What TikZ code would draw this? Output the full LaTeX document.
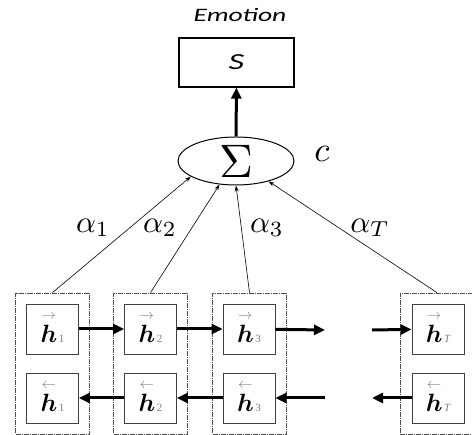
\documentclass[tikz,border=0pt]{standalone}
\usepackage{fontspec}
\usepackage{bm}
\newfontfamily\calib{Carlito}
\newfontfamily\tnr{Liberation Serif}
\usetikzlibrary{arrows.meta,positioning,shapes.geometric}

% h with a small arrow over it and a grey index
\newcommand{\hdir}[2]{\begin{tabular}[b]{@{}c@{}}{\color{gray}\fontsize{15}{15}\selectfont$#1$}\\[2pt]\scalebox{2.5}{$\bm{h}$}\end{tabular}\,{\color{gray}\tnr\fontsize{11}{11}\selectfont #2}}
% math label blown up
\newcommand{\lbl}[2][3.1]{\scalebox{#1}{$#2$}}

\begin{document}
\begin{tikzpicture}[
  x=1pt, y=1pt,
  outbox/.style={rectangle, draw=black!70, line width=0.7pt,
                 dash pattern=on 5pt off 1pt on 1pt off 1pt,
                 minimum width=74pt, minimum height=141pt, inner sep=0pt},
  hbox/.style={rectangle, draw=black!75, line width=0.8pt,
               minimum width=52pt, minimum height=50pt, inner sep=0pt},
  fat/.style={line width=3pt, -{Triangle[length=11pt,width=10pt]}},
  att/.style={line width=0.6pt, -{Stealth[length=6pt,width=4pt]}},
]
  \useasboundingbox (0,0) rectangle (472,435);
  \clip (0,0) rectangle (472,435);
  % output
  \node (emo) at (240,420) {\calib\itshape\fontsize{19}{19}\selectfont\scalebox{1.45}[1]{Emotion}};
  \node[draw, line width=1.2pt, minimum width=115pt, minimum height=49pt] (s) at (236.5,372.5)
    {\calib\itshape\fontsize{23}{23}\selectfont\scalebox{1.5}[1]{S}};
  % attention sum
  \node[ellipse, draw, line width=1pt, minimum width=116pt, minimum height=48pt, inner sep=0pt] (sum) at (236,274)
    {\lbl[4.7]{\Sigma}};
  \node (c) at (322,281) {\lbl[3.5]{c}};
  \draw[fat] (sum) -- (s);
  % time steps
  \node[outbox] (col1) at (52.5,71.5) {};
  \node[outbox] (col2) at (150.5,71.5) {};
  \node[outbox] (col3) at (249.5,71.5) {};
  \node[outbox] (colT) at (437,71.5) {};
  \node[hbox] (f1) at (52.5,106) {\hdir{\rightarrow}{1}};
  \node[hbox] (f2) at (150.5,106) {\hdir{\rightarrow}{2}};
  \node[hbox] (f3) at (249,106) {\hdir{\rightarrow}{3}};
  \node[hbox] (fT) at (438,106) {\hdir{\rightarrow}{\itshape T}};
  \node[hbox] (b1) at (52.5,37) {\hdir{\leftarrow}{1}};
  \node[hbox] (b2) at (150.5,37) {\hdir{\leftarrow}{2}};
  \node[hbox] (b3) at (249,37) {\hdir{\leftarrow}{3}};
  \node[hbox] (bT) at (438,37) {\hdir{\leftarrow}{\itshape T}};
  \coordinate (fgo) at (325,105);
  \coordinate (fin) at (372,105);
  \coordinate (bgo) at (325,37);
  \coordinate (bin) at (372,37);
  % recurrences
  \draw[fat] (f1) -- (f2);
  \draw[fat] (f2) -- (f3);
  \draw[fat] (f3) -- (fgo);
  \draw[fat] (fin) -- (fT);
  \draw[fat] (b2) -- (b1);
  \draw[fat] (b3) -- (b2);
  \draw[fat] (bgo) -- (b3);
  \draw[fat] (bT) -- (bin);
  % weights
  \draw[att] (col1.north) -- (sum.199);
  \draw[att] (col2.north) -- (sum.235);
  \draw[att] (col3.north) -- (sum.270);
  \draw[att] (colT.north) -- (sum.328);
  \node (a1) at (93,207) {\lbl{\alpha_1}};
  \node (a2) at (160,207) {\lbl{\alpha_2}};
  \node (a3) at (267,207) {\lbl{\alpha_3}};
  \node (aT) at (370,207) {\lbl{\alpha_T}};
\end{tikzpicture}
\end{document}
